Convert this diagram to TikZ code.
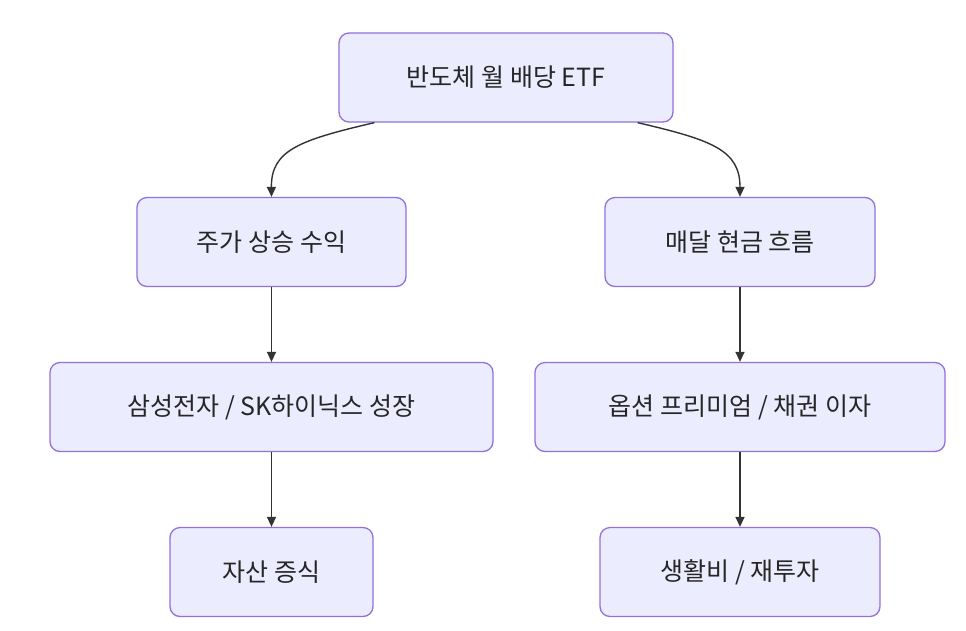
\documentclass[tikz,border=0pt]{standalone}
\usepackage{fontspec}
\setmainfont{Noto Sans CJK KR}
\usetikzlibrary{arrows.meta}
\definecolor{nfill}{HTML}{ECECFF}
\definecolor{nborder}{HTML}{9370DB}
\definecolor{edge}{HTML}{333333}
\begin{document}
\begin{tikzpicture}[x=1pt,y=-1pt,
  box/.style={draw=nborder,fill=nfill,line width=1.3pt,rounded corners=10pt,minimum height=89pt,inner sep=0pt,font=\fontsize{25}{30}\selectfont,text=black!85},
  arr/.style={draw=edge,line width=1.4pt,-{Triangle[length=10pt,width=9pt]}}]
\useasboundingbox[fill=white] (0,0) rectangle (966,630);
\node[box,minimum width=334pt] (top) at (506,77.5) {반도체 월 배당 ETF};
\node[box,minimum width=269pt] (a) at (271.5,242) {주가 상승 수익};
\node[box,minimum width=270pt] (b) at (740,242) {매달 현금 흐름};
\node[box,minimum width=443pt] (c) at (271.5,407) {삼성전자 / SK하이닉스 성장};
\node[box,minimum width=410pt] (d) at (740,407) {옵션 프리미엄 / 채권 이자};
\node[box,minimum width=203pt] (e) at (271.5,572) {자산 증식};
\node[box,minimum width=280pt] (f) at (740,572) {생활비 / 재투자};
\draw[arr] (top.south west)++(36,0) .. controls (300,140) and (271,150) .. (a.north);
\draw[arr] (top.south east)++(-36,0) .. controls (712,140) and (740,150) .. (b.north);
\draw[arr] (a) -- (c);
\draw[arr] (b) -- (d);
\draw[arr] (c) -- (e);
\draw[arr] (d) -- (f);
\end{tikzpicture}
\end{document}
